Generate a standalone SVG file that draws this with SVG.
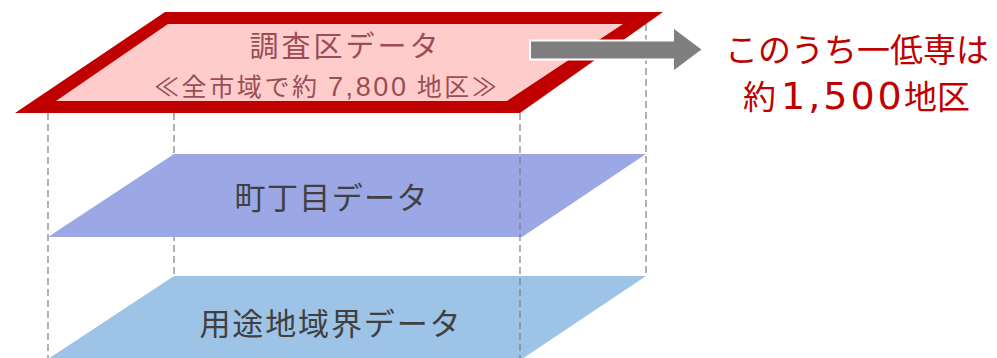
<svg xmlns="http://www.w3.org/2000/svg" width="997" height="358" viewBox="0 0 997 358">
<style>
.dash{stroke:#7f7f7f;stroke-width:1.2;stroke-dasharray:7,4;fill:none}
.lbl{font-family:"Noto Sans CJK JP","Noto Sans",sans-serif;text-anchor:middle}
.dark{fill:#404040;font-size:31px}
.topt{fill:#9a4e53}
.red{fill:#c00000;font-size:33px}
</style>
<g id="guides-back">
<line class="dash" x1="48" y1="113" x2="48" y2="358"/>
<line class="dash" x1="174" y1="113" x2="174" y2="276"/>
<line class="dash" x1="646" y1="24" x2="646" y2="276"/>
</g>
<g id="layer-bottom">
<polygon points="174,276 646,276 522,359 48,359" fill="#9dc3e6"/>
<text class="lbl dark" x="330" y="335" textLength="261" lengthAdjust="spacing">用途地域界データ</text>
</g>
<g id="layer-middle">
<polygon points="174,154 646,154 522,237 48,237" fill="#9ca7e6"/>
<text class="lbl dark" x="331" y="209" textLength="193" lengthAdjust="spacing">町丁目データ</text>
</g>
<g id="layer-top">
<polygon points="165,12 663,12 520,113 15,113" fill="#c00000"/>
<polygon points="168,24 623,24 507,101 56,101" fill="#ffcccc"/>
<text class="lbl topt" x="344" y="57" font-size="29" textLength="189" lengthAdjust="spacing">調査区データ</text>
<text class="lbl topt" x="154" y="96" font-size="25" style="text-anchor:start" textLength="343" lengthAdjust="spacing">≪全市域で約 <tspan font-family="Liberation Sans" font-size="27">7,800</tspan> 地区≫</text>
</g>
<g id="guides-front">
<line class="dash" x1="520" y1="113" x2="520" y2="358"/>
</g>
<g id="connectors">
<path d="M530,40.5 H673 V27 L703,49.5 L673,72 V59.5 H530 Z" fill="#7f7f7f" stroke="#ffffff" stroke-width="2"/>
</g>
<g id="callout">
<text class="lbl red" x="857" y="62">このうち一低専は</text>
<text class="lbl red" x="743" y="109" style="text-anchor:start">約<tspan x="781" font-family="DejaVu Sans" font-size="38" letter-spacing="3">1,500</tspan><tspan x="904">地区</tspan></text>
</g>
</svg>
